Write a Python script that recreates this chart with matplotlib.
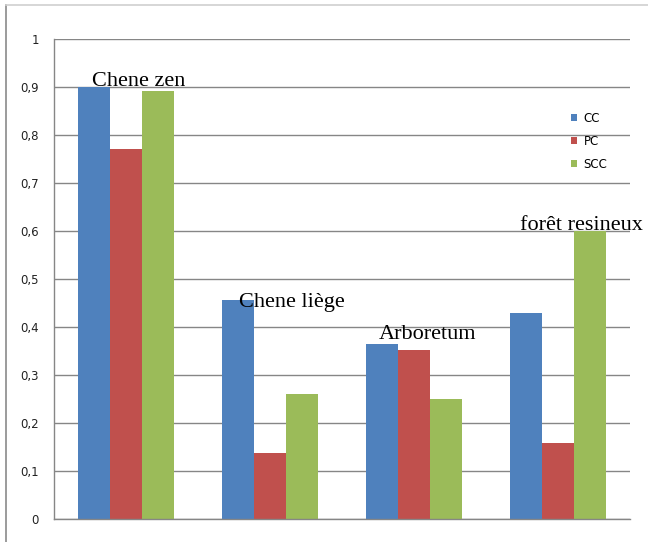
import numpy as np
import matplotlib.pyplot as plt
from matplotlib.lines import Line2D

# Data
sites = ["Chene zen", "Chene liège", "Arboretum", "forêt resineux"]
cc = [0.900, 0.456, 0.365, 0.429]
pc = [0.771, 0.138, 0.352, 0.158]
scc = [0.892, 0.260, 0.250, 0.600]
series_names = ["CC", "PC", "SCC"]
colors = ["#4F81BD", "#C0504D", "#9BBB59"]
yticks = [0, 0.1, 0.2, 0.3, 0.4, 0.5, 0.6, 0.7, 0.8, 0.9, 1]

fig = plt.figure(figsize=(6.48, 5.42), dpi=100)
ax = fig.add_axes([54 / 648, 1 - 519 / 542, 576 / 648, 480 / 542])

x = np.arange(len(sites))
w = 1 / 4.5
for i, (vals, name, col) in enumerate(zip([cc, pc, scc], series_names, colors)):
    ax.bar(x + (i - 1) * w, vals, width=w, color=col, label=name, zorder=2)

ax.set_xlim(-0.5, len(sites) - 0.5)
ax.set_ylim(0, 1)
ax.set_yticks(yticks)
ax.set_yticklabels([("%g" % t).replace(".", ",") for t in yticks],
                   fontsize=8.5, family="DejaVu Sans", color="#222222")
ax.set_xticks([])
ax.tick_params(axis="y", length=0, pad=11)
ax.grid(axis="y", color="#868686", linewidth=1, zorder=0)
for s in ["top", "right"]:
    ax.spines[s].set_visible(False)
for s in ["left", "bottom"]:
    ax.spines[s].set_color("#868686")
    ax.spines[s].set_linewidth(1)

# site names sitting above the bars
label_pos = [(-0.236, 0.902), (0.787, 0.442), (1.754, 0.375), (2.735, 0.602)]
for name, (lx, ly) in zip(sites, label_pos):
    ax.text(lx, ly, name, ha="left", va="baseline", fontsize=16,
            family="Liberation Serif", clip_on=False, zorder=3)

leg = ax.legend(loc="upper left", bbox_to_anchor=(571 / 648, 1 - 112 / 542),
                bbox_transform=fig.transFigure, frameon=False, fontsize=8.5,
                handlelength=0.55, handleheight=0.55, handletextpad=0.5,
                labelspacing=0.85, borderaxespad=0, borderpad=0)

# outer chart border (left and top only, the image is cropped)
fig.add_artist(Line2D([6 / 648, 6 / 648], [0, 1 - 5 / 542], transform=fig.transFigure,
                      color="#8a8a8a", linewidth=1.2))
fig.add_artist(Line2D([6 / 648, 1], [1 - 5 / 542, 1 - 5 / 542], transform=fig.transFigure,
                      color="#d0d0d0", linewidth=1.2))

fig.savefig("out.png", dpi=100)
